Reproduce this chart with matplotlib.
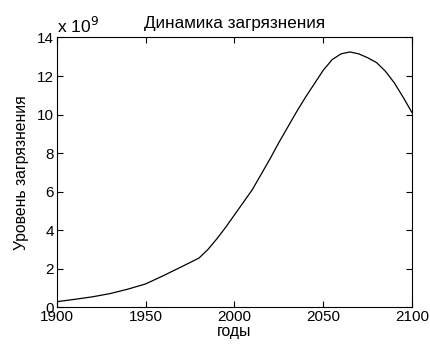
import matplotlib
matplotlib.use("Agg")
import matplotlib.pyplot as plt

plt.rcParams['font.family'] = ['Liberation Sans', 'DejaVu Sans']

years = [1900, 1910, 1920, 1930, 1940, 1950, 1960, 1970, 1980, 1985, 1990, 1995,
         2000, 2005, 2010, 2015, 2020, 2025, 2030, 2035, 2040, 2045, 2050, 2055,
         2060, 2065, 2070, 2075, 2080, 2085, 2090, 2095, 2100]
pollution_e9 = [0.30, 0.42, 0.55, 0.72, 0.95, 1.22, 1.65, 2.10, 2.56, 3.0, 3.55, 4.15,
                4.8, 5.45, 6.1, 6.9, 7.7, 8.55, 9.35, 10.15, 10.9, 11.6, 12.3, 12.85,
                13.15, 13.25, 13.15, 12.95, 12.7, 12.25, 11.65, 10.9, 10.1]
xticks = [1900, 1950, 2000, 2050, 2100]
yticks = [0, 2, 4, 6, 8, 10, 12, 14]

fig = plt.figure(figsize=(4.31, 3.47), dpi=100)
ax = fig.add_axes([0.132, 0.114, 0.824, 0.778])
ax.plot(years, pollution_e9, color='black', linewidth=0.9)
ax.set_xlim(1900, 2100)
ax.set_ylim(0, 14)
ax.set_xticks(xticks)
ax.set_yticks(yticks)
ax.tick_params(direction='in', top=True, right=True, labelsize=11, length=4, width=0.8, pad=2)
for s in ax.spines.values():
    s.set_linewidth(0.8)
ax.set_title('Динамика загрязнения', fontsize=12.3, pad=7)
ax.set_xlabel('годы', fontsize=11.3, labelpad=0)
ax.set_ylabel('Уровень загрязнения', fontsize=11.3, labelpad=6)
ax.text(0.0, 1.005, 'x 10$^9$', transform=ax.transAxes, fontsize=12.5, ha='left', va='bottom')

fig.savefig('out.png', dpi=100)
